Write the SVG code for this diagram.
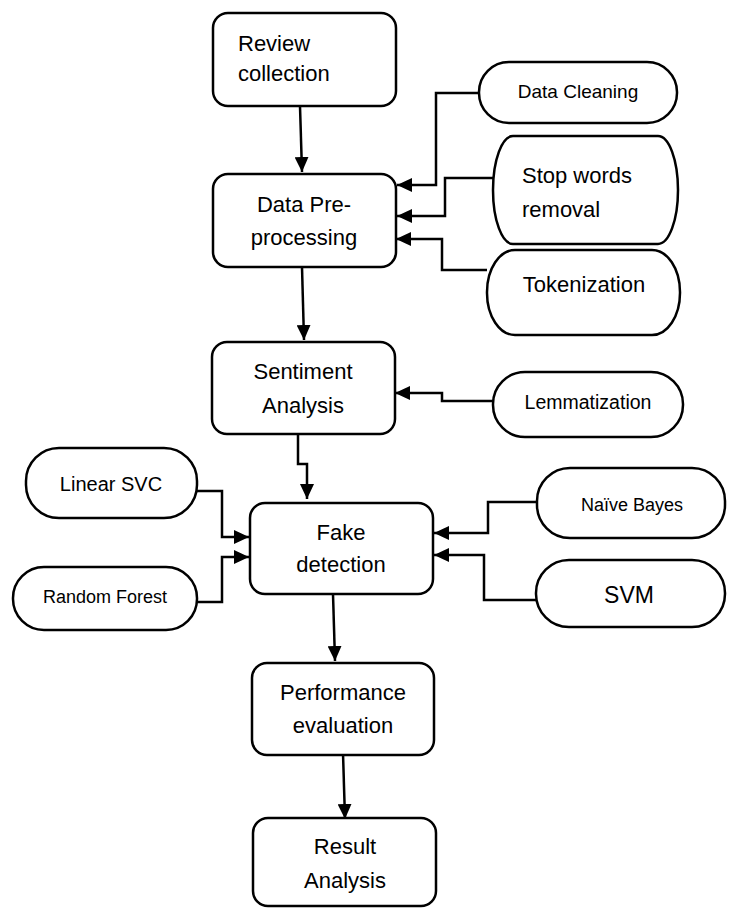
<svg xmlns="http://www.w3.org/2000/svg" width="733" height="909" viewBox="0 0 733 909">
<style>
.box{fill:#fff;stroke:#000;stroke-width:2.5}
.t{font-family:"Liberation Sans",Arial,sans-serif;font-size:22px;fill:#000}
.c{text-anchor:middle}
.ln{fill:none;stroke:#000;stroke-width:2.5;marker-end:url(#ah)}
</style>
<defs>
<marker id="ah" markerWidth="16" markerHeight="14" refX="15" refY="7" orient="auto" markerUnits="userSpaceOnUse"><path d="M0,0 L15,7 L0,14 Z" fill="#000"/></marker>
</defs>
<rect width="733" height="909" fill="#fff"/>
<g id="connectors">
<path class="ln" d="M300,106 L302,172"/>
<path class="ln" d="M302,267 L304,340"/>
<path class="ln" d="M298,434 L298,464 L307,464 L307,499"/>
<path class="ln" d="M333,594 L335,661"/>
<path class="ln" d="M343,753 L345,819"/>
<path class="ln" d="M479,93 L436,93 L436,185 L397,185"/>
<path class="ln" d="M493,178 L445,178 L445,216 L397,216"/>
<path class="ln" d="M487,270 L442,270 L442,239 L396,239"/>
<path class="ln" d="M493,401 L442,401 L442,393 L395,393"/>
<path class="ln" d="M197,491 L222,491 L222,537 L249,537"/>
<path class="ln" d="M197,602 L222,602 L222,557 L249,557"/>
<path class="ln" d="M537,502 L488,502 L488,533 L434,533"/>
<path class="ln" d="M536,600 L484,600 L484,555 L434,555"/>
</g>
<g id="review"><rect class="box" x="213" y="13" width="183" height="93" rx="15"/><text class="t" x="238" y="51">Review</text><text class="t" x="238" y="81">collection</text></g>
<g id="preprocessing"><rect class="box" x="213" y="174" width="183" height="93" rx="15"/><text class="t c" x="304" y="212">Data Pre-</text><text class="t c" x="304" y="245">processing</text></g>
<g id="sentiment"><rect class="box" x="212" y="342" width="183" height="92" rx="15"/><text class="t c" x="303" y="379">Sentiment</text><text class="t c" x="303" y="413">Analysis</text></g>
<g id="fake"><rect class="box" x="250" y="503" width="183" height="91" rx="15"/><text class="t c" x="341" y="540">Fake</text><text class="t c" x="341" y="572">detection</text></g>
<g id="performance"><rect class="box" x="252" y="663" width="182" height="92" rx="15"/><text class="t c" x="343" y="700">Performance</text><text class="t c" x="343" y="733">evaluation</text></g>
<g id="result"><rect class="box" x="253" y="818" width="183" height="88" rx="15"/><text class="t c" x="345" y="854">Result</text><text class="t c" x="345" y="888">Analysis</text></g>
<g id="cleaning"><rect class="box" x="479" y="62" width="198" height="61" rx="30"/><text class="t c" x="578" y="98" style="font-size:19px">Data Cleaning</text></g>
<g id="stopwords"><rect class="box" x="493" y="136" width="185" height="108" rx="20" ry="54"/><text class="t" x="522" y="183">Stop words</text><text class="t" x="522" y="217">removal</text></g>
<g id="tokenization"><rect class="box" x="487" y="250" width="193" height="85" rx="28" ry="42"/><text class="t c" x="584" y="292">Tokenization</text></g>
<g id="lemmatization"><rect class="box" x="493" y="372" width="190" height="65" rx="32"/><text class="t c" x="588" y="409" style="font-size:19.5px">Lemmatization</text></g>
<g id="linearsvc"><rect class="box" x="26" y="448" width="171" height="70" rx="33"/><text class="t c" x="111" y="491" style="font-size:20px">Linear SVC</text></g>
<g id="randomforest"><rect class="box" x="13" y="567" width="184" height="63" rx="31"/><text class="t c" x="105" y="603" style="font-size:18px">Random Forest</text></g>
<g id="naivebayes"><rect class="box" x="537" y="468" width="188" height="70" rx="33"/><text class="t c" x="632" y="511" style="font-size:18px">Naïve Bayes</text></g>
<g id="svm"><rect class="box" x="536" y="560" width="189" height="67" rx="33"/><text class="t c" x="629" y="603" style="font-size:23px">SVM</text></g>
</svg>
